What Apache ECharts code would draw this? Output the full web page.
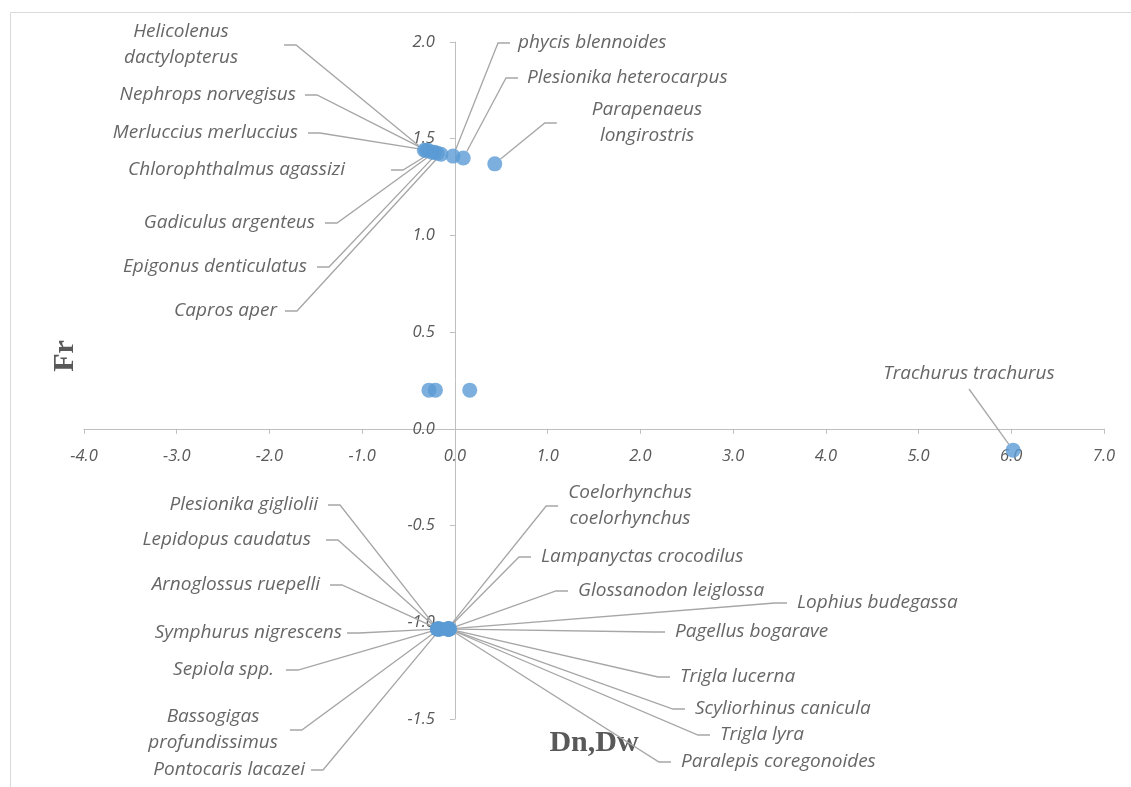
<!DOCTYPE html>
<html>
<head>
<meta charset="utf-8">
<script src="https://cdn.jsdelivr.net/npm/echarts@6/dist/echarts.min.js"></script>
<style>
  html, body { margin: 0; padding: 0; background: #fff; }
  #chart { width: 1131px; height: 787px; }
</style>
</head>
<body>
<div id="chart"></div>
<script>
// species (empty name = point without a label)
const species = [
  'Helicolenus dactylopterus', 'Nephrops norvegisus', 'Merluccius merluccius',
  'Chlorophthalmus agassizi', 'Gadiculus argenteus', 'Epigonus denticulatus',
  'Capros aper', 'phycis blennoides', 'Plesionika heterocarpus', 'Parapenaeus longirostris',
  '', '', '',
  'Trachurus trachurus',
  'Plesionika gigliolii', 'Lepidopus caudatus', 'Arnoglossus ruepelli', 'Symphurus nigrescens',
  'Sepiola spp.', 'Bassogigas profundissimus', 'Pontocaris lacazei',
  'Coelorhynchus coelorhynchus', 'Lampanyctas crocodilus', 'Glossanodon leiglossa',
  'Lophius budegassa', 'Pagellus bogarave', 'Trigla lucerna', 'Scyliorhinus canicula',
  'Trigla lyra', 'Paralepis coregonoides'
];
const dnDw = [
  -0.33, -0.31, -0.29, -0.25, -0.22, -0.19, -0.15, -0.02, 0.09, 0.43,
  -0.28, -0.21, 0.16,
  6.02,
  -0.19, -0.19, -0.18, -0.18, -0.17, -0.17, -0.16,
  -0.08, -0.08, -0.07, -0.07, -0.07, -0.07, -0.06, -0.06, -0.06
];
const fr = [
  1.44, 1.44, 1.44, 1.43, 1.43, 1.425, 1.42, 1.41, 1.40, 1.37,
  0.2, 0.2, 0.2,
  -0.11,
  -1.035, -1.035, -1.035, -1.035, -1.035, -1.035, -1.035,
  -1.035, -1.035, -1.035, -1.035, -1.035, -1.035, -1.035, -1.035, -1.035
];
const xMin = -4, xMax = 7, xStep = 1;
const yMin = -1.5, yMax = 2, yStep = 0.5;

// label placement in px: [text x (edge or centre), centre y, align, gap to leader, two lines]
const labelPlace = [
  [181, 45, 'center', 46, true], [296, 95, 'right', 9], [298, 133, 'right', 10],
  [345, 170, 'right', 46], [315, 223, 'right', 10], [307, 267, 'right', 10],
  [277, 311, 'right', 8], [518, 43, 'left', 8], [527, 78, 'left', 9],
  [647, 123, 'center', 35, true],
  null, null, null,
  [969, 374, 'center', 2],
  [318, 505, 'right', 10], [311, 540, 'right', 15], [320, 585, 'right', 10],
  [342, 633, 'right', 5], [274, 670, 'right', 12], [213, 730, 'center', 12, true],
  [305, 770, 'right', 6],
  [630, 506, 'center', 10, true], [541, 557, 'left', 10], [578, 591, 'left', 10],
  [797, 603, 'left', 10], [675, 632, 'left', 10], [680, 677, 'left', 10],
  [695, 709, 'left', 10], [720, 735, 'left', 10], [681, 762, 'left', 10]
];

const chartDom = document.getElementById('chart');
const myChart = echarts.init(chartDom);

const W = 1131, H = 787;
const grid = { left: 84, right: 27, top: 42, bottom: 68 };
const gridW = W - grid.left - grid.right;
const gridH = H - grid.top - grid.bottom;
// axes cross at 0: shift each axis from its grid edge to the zero line
const xAxisShift = -(0 - yMin) / (yMax - yMin) * gridH;
const yAxisShift = -(0 - xMin) / (xMax - xMin) * gridW;

const labelFont = '"Open Sans", Lato, sans-serif';

const points = species.map((name, i) => {
  const p = labelPlace[i];
  const item = {
    name: name,
    value: [dnDw[i], fr[i]],
    label: p ? { show: true, padding: [2, p[3]] } : { show: false }
  };
  if (p && p[3] <= 2) item.labelLine = { show: true, length2: 0 };
  return item;
});

const option = {
  animation: false,
  backgroundColor: '#fff',
  grid: grid,
  xAxis: {
    type: 'value',
    min: xMin, max: xMax, interval: xStep,
    offset: xAxisShift,
    splitLine: { show: false },
    axisLine: { onZero: false, lineStyle: { color: '#bfbfbf', width: 1 } },
    axisTick: { show: true, length: 5, lineStyle: { color: '#bfbfbf' } },
    axisLabel: {
      formatter: v => v.toFixed(1),
      fontStyle: 'italic', fontFamily: labelFont, fontSize: 16.5,
      color: '#595959', margin: 19
    }
  },
  yAxis: {
    type: 'value',
    min: yMin, max: yMax, interval: yStep,
    offset: yAxisShift,
    splitLine: { show: false },
    axisLine: { onZero: false, lineStyle: { color: '#bfbfbf', width: 1 } },
    axisTick: { show: true, length: 5, lineStyle: { color: '#bfbfbf' } },
    axisLabel: {
      formatter: v => v.toFixed(1),
      fontStyle: 'italic', fontFamily: labelFont, fontSize: 16.5,
      color: '#595959', margin: 20
    }
  },
  graphic: [
    {
      type: 'rect', silent: true, z: -1,
      shape: { x: 10.5, y: 12.5, width: 1300, height: 900 },
      style: { fill: 'none', stroke: '#d9d9d9', lineWidth: 1 }
    },
    {
      type: 'text', x: 65, y: 356, rotation: Math.PI / 2,
      style: {
        text: 'Fr', fill: '#595959', font: 'bold 30px "Liberation Serif", "DejaVu Serif", serif',
        align: 'center', verticalAlign: 'middle'
      }
    },
    {
      type: 'text', x: 594, y: 743,
      style: {
        text: 'Dn,Dw', fill: '#595959', font: 'bold 30px "Liberation Serif", "DejaVu Serif", serif',
        align: 'center', verticalAlign: 'middle'
      }
    }
  ],
  series: [
    {
      type: 'scatter',
      symbolSize: 15,
      itemStyle: { color: '#5b9bd5' },
      data: points,
      label: {
        show: true,
        position: 'top',
        formatter: p => labelPlace[p.dataIndex] && labelPlace[p.dataIndex][4]
          ? p.name.replace(' ', '\n') : p.name,
        fontStyle: 'italic', fontFamily: labelFont, fontSize: 19,
        lineHeight: 26, color: '#404040'
      },
      labelLine: {
        show: true, length2: 12,
        lineStyle: { color: '#a6a6a6', width: 1.3 }
      },
      labelLayout: function (params) {
        const p = labelPlace[params.dataIndex];
        if (!p) return {};
        let x = p[0];
        if (p[2] === 'right') x = p[0] + p[3];
        if (p[2] === 'left') x = p[0] - p[3];
        return { x: x, y: p[1], align: p[2], verticalAlign: 'middle' };
      }
    }
  ]
};

myChart.setOption(option);
</script>
</body>
</html>
